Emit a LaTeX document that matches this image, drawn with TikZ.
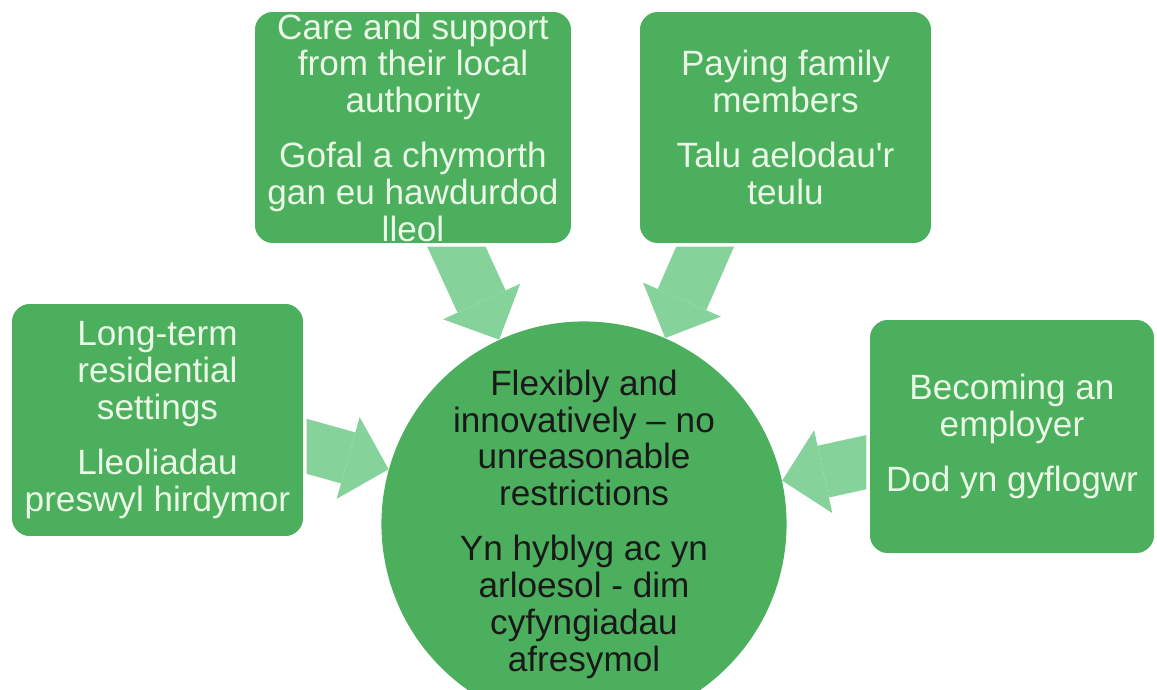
\documentclass[tikz,border=0pt]{standalone}
\usepackage{fontspec}
\setmainfont{Liberation Sans}
\usetikzlibrary{arrows.meta,backgrounds}

\definecolor{boxgreen}{HTML}{4CAF5E}
\definecolor{arrowgreen}{HTML}{85D29B}
\definecolor{paletext}{HTML}{EAF8E6}

\tikzset{
  choice/.style={fill=boxgreen, draw=white, line width=2pt, rounded corners=0.4cm,
    text=paletext, align=center, inner sep=0pt,
    font=\fontsize{20}{21}\selectfont},
  hub/.style={circle, fill=boxgreen, text=black!90, align=center, inner sep=0pt,
    minimum size=7.6cm, font=\fontsize{20}{21}\selectfont},
  flow/.style={draw=arrowgreen, line width=1.06cm,
    -{Triangle[width=1.7cm,length=0.84cm,line width=0pt]},
    shorten <=-0.3cm}
}

\begin{document}
\begin{tikzpicture}[x=0.02cm, y=-0.02cm]
  \useasboundingbox (0,0) rectangle (1157,690);

  % the centre circle
  \node[hub] (hub) at (584,524)
    {Flexibly and\\innovatively -- no\\unreasonable\\restrictions\\[10pt]
     Yn hyblyg ac yn\\arloesol - dim\\cyfyngiadau\\afresymol};

  % the four ways round it
  \node[choice, minimum width=6.4cm, minimum height=4.7cm] (care) at (413,127.5)
    {Care and support\\from their local\\authority\\[10pt]
     Gofal a chymorth\\gan eu hawdurdod\\lleol};
  \node[choice, minimum width=5.9cm, minimum height=4.7cm] (pay) at (785.5,127.5)
    {Paying family\\members\\[10pt]Talu aelodau\textquotesingle r\\teulu};
  \node[choice, minimum width=5.9cm, minimum height=4.72cm] (longterm) at (157.5,420)
    {Long-term\\residential\\settings\\[10pt]Lleoliadau\\preswyl hirdymor};
  \node[choice, minimum width=5.76cm, minimum height=4.74cm] (employer) at (1012,436.5)
    {Becoming an\\employer\\[10pt]Dod yn gyflogwr};

  % block arrows into the circle
  \begin{scope}[on background layer]
    \draw[flow] (care.290) -- (hub);
    \draw[flow] (pay.236) -- (hub);
    \draw[flow] (longterm.350) -- (hub);
    \draw[flow] (employer.190) -- (hub);
  \end{scope}
\end{tikzpicture}
\end{document}
